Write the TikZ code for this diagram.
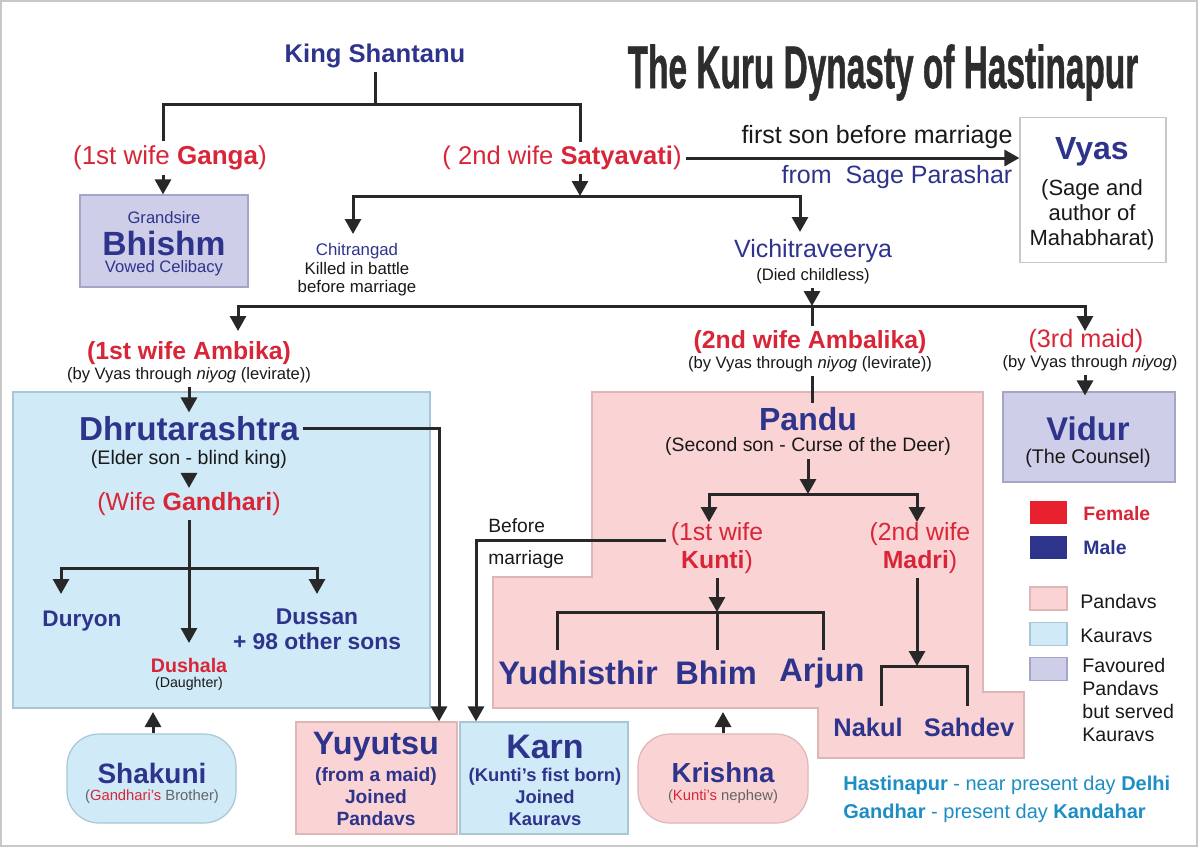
\documentclass[tikz,border=0pt]{standalone}
\usepackage{fontspec}
\setmainfont{Liberation Sans}
\newfontfamily\ktitlefont[FakeBold=1.2]{Liberation Sans}
\usepackage{graphicx}
\usetikzlibrary{arrows.meta}
\definecolor{kblue}{RGB}{46,52,140}
\definecolor{kred}{RGB}{216,38,56}
\definecolor{lred}{RGB}{232,33,46}
\definecolor{kpink}{RGB}{250,212,212}
\definecolor{kpinkb}{RGB}{222,182,182}
\definecolor{ksky}{RGB}{208,234,248}
\definecolor{kskyb}{RGB}{168,198,214}
\definecolor{klav}{RGB}{206,206,232}
\definecolor{klavb}{RGB}{165,165,200}
\definecolor{kcyan}{RGB}{28,142,196}
\definecolor{kline}{RGB}{40,40,40}
\definecolor{ktitle}{RGB}{45,45,45}
\definecolor{ktext}{RGB}{25,25,25}
\definecolor{kgray}{RGB}{100,100,100}
\definecolor{framec}{RGB}{200,200,200}
\newcommand\kfs[2]{\fontsize{#1}{#2}\selectfont}
\tikzset{
  lbl/.style={inner sep=2pt, align=center, text=ktext},
  conn/.style={draw=kline, line width=1.5pt},
  arr/.style={conn, -{Triangle[length=7.5pt,width=8pt]}},
  pinkbox/.style={draw=kpinkb, fill=kpink, line width=0.6pt, inner sep=0pt},
  skybox/.style={draw=kskyb, fill=ksky, line width=0.6pt, inner sep=0pt},
  lavbox/.style={draw=klavb, fill=klav, line width=0.6pt, inner sep=0pt},
  legsq/.style={minimum width=18.5pt, minimum height=11.5pt, inner sep=0pt},
  bigname/.style={lbl, text=kblue, font={\kfs{16.3}{18}\bfseries}},
  small/.style={lbl, font={\kfs{8.3}{10}}},
}
\begin{document}
\begin{tikzpicture}[x=0.5pt,y=-0.5pt]
\useasboundingbox (0,0) rectangle (1200,848);
\fill[white] (0,0) rectangle (1200,848);
\draw[framec, line width=1pt] (1,1) rectangle (1197,846);

% ---------- title
\node[inner sep=0pt, anchor=base, text=ktitle] (title) at (883,88)
  {\scalebox{0.557}[1]{\kfs{30}{36}\ktitlefont\bfseries The Kuru Dynasty of Hastinapur}};

% ---------- background boxes
\node[skybox, minimum width=208.5pt, minimum height=158pt] (kaurbox) at (221.5,550) {};
\draw[draw=kpinkb, fill=kpink, line width=0.6pt] (592,392) -- (983,392) -- (983,692)
  -- (1024,692) -- (1024,758) -- (818,758) -- (818,708) -- (493,708) -- (493,577)
  -- (592,577) -- cycle;
\node[lavbox, minimum width=84pt, minimum height=46pt] (bhishmbox) at (164,241) {};
\node[draw=framec, fill=white, line width=0.6pt, minimum width=73pt, minimum height=72.5pt] (vyasbox) at (1093,190) {};
\node[lavbox, minimum width=86pt, minimum height=45pt] (vidurbox) at (1089,437) {};
\node[pinkbox, minimum width=80.5pt, minimum height=56pt] (yuyubox) at (376.5,778) {};
\node[skybox, minimum width=84pt, minimum height=56pt] (karnbox) at (544,778) {};
\node[skybox, rounded corners=16pt, minimum width=84.5pt, minimum height=44.5pt] (shakbox) at (151.5,778.5) {};
\node[pinkbox, rounded corners=16pt, minimum width=85pt, minimum height=44.5pt] (krishbox) at (723,778.5) {};

% ---------- legend squares
\node[legsq, fill=lred] (legF) at (1048.5,512.5) {};
\node[legsq, fill=kblue] (legM) at (1048.5,547) {};
\node[legsq, pinkbox] (legP) at (1048.5,598.5) {};
\node[legsq, skybox] (legK) at (1048.5,634) {};
\node[legsq, lavbox] (legL) at (1048.5,669) {};

% ---------- texts
\node[lbl, text=kblue, font={\kfs{12.8}{15}\bfseries}] (shantanu) at (375,56) {King Shantanu};
\node[lbl, text=kred, font={\kfs{13}{15}}] (ganga) at (170,158) {(1st wife \textbf{Ganga})};
\node[lbl, text=kred, font={\kfs{12.8}{15}}] (satya) at (562,158) {( 2nd wife \textbf{Satyavati})};
\node[lbl, font={\kfs{12.5}{15}}] (firstson) at (877,137) {first son before marriage};
\node[lbl, text=kblue, font={\kfs{12.5}{15}}] (parashar) at (897,177) {from\ \ Sage Parashar};
\node[lbl, text=kblue, font={\kfs{16}{18}\bfseries}] (vyas) at (1092,152) {Vyas};
\node[lbl, font={\kfs{11}{12.5}}] (vyasd) at (1092,215) {(Sage and\\author of\\Mahabharat)};

\node[lbl, text=kblue, font={\kfs{8.3}{10}}] (grandsire) at (164,218) {Grandsire};
\node[lbl, text=kblue, font={\kfs{16.8}{18}\bfseries}] (bhishm) at (164,243) {Bhishm};
\node[lbl, text=kblue, font={\kfs{8.3}{10}}] (celibacy) at (164,268) {Vowed Celibacy};

\node[lbl, font={\kfs{8.4}{9.3}}] (chitra) at (357,270) {\textcolor{kblue}{Chitrangad}\\Killed in battle\\before marriage};
\node[lbl, text=kblue, font={\kfs{12.5}{15}}] (vichi) at (813,251) {Vichitraveerya};
\node[small] (died) at (813,276) {(Died childless)};

\node[lbl, text=kred, font={\kfs{12.4}{15}\bfseries}] (ambika) at (189,353) {(1st wife Ambika)};
\node[small] (niyog1) at (189,375) {(by Vyas through \textit{niyog} (levirate))};
\node[lbl, text=kred, font={\kfs{12.4}{15}\bfseries}] (ambalika) at (810,342) {(2nd wife Ambalika)};
\node[small] (niyog2) at (810,364) {(by Vyas through \textit{niyog} (levirate))};
\node[lbl, text=kred, font={\kfs{12.6}{15}}] (maid) at (1086,341) {(3rd maid)};
\node[small] (niyog3) at (1090,363) {(by Vyas through \textit{niyog})};

\node[lbl, text=kblue, font={\kfs{16.6}{18}\bfseries}] (dhru) at (189,429) {Dhrutarashtra};
\node[lbl, font={\kfs{9.8}{12}}] (elder) at (189,459) {(Elder son - blind king)};
\node[lbl, text=kred, font={\kfs{12.5}{15}}] (gandhari) at (189,504) {(Wife \textbf{Gandhari})};
\node[lbl, text=kblue, font={\kfs{11.3}{13}\bfseries}] (duryon) at (82,621) {Duryon};
\node[lbl, text=kblue, font={\kfs{11.4}{12.5}\bfseries}] (dussan) at (317,629) {Dussan\\+ 98 other sons};
\node[lbl, text=kred, font={\kfs{9.8}{12}\bfseries}] (dushala) at (189,665) {Dushala};
\node[lbl, font={\kfs{7.1}{9}}] (daughter) at (189,684) {(Daughter)};

\node[lbl, text=kblue, font={\kfs{14}{16}\bfseries}] (shakuni) at (152,773) {Shakuni};
\node[lbl, text=kgray, font={\kfs{7.4}{9}}] (shakd) at (152,797) {(\textcolor{kred}{Gandhari's} Brother)};

\node[lbl, text=kblue, font={\kfs{16.2}{18}\bfseries}] (yuyutsu) at (376,747) {Yuyutsu};
\node[lbl, text=kblue, font={\kfs{9.6}{11}\bfseries}] (yuyud) at (376,797) {(from a maid)\\Joined\\Pandavs};
\node[lbl, text=kblue, font={\kfs{17}{19}\bfseries}] (karn) at (545,747) {Karn};
\node[lbl, text=kblue, font={\kfs{9.2}{11}\bfseries}] (karnd) at (545,797) {(Kunti’s fist born)\\Joined\\Kauravs};

\node[lbl, font={\kfs{9.6}{11}}, anchor=west] (before) at (484,526) {Before};
\node[lbl, font={\kfs{9.6}{11}}, anchor=west] (marriage) at (484,560) {marriage};

\node[lbl, text=kblue, font={\kfs{16}{18}\bfseries}] (pandu) at (808,419) {Pandu};
\node[lbl, font={\kfs{9.7}{12}}] (curse) at (808,446) {(Second son - Curse of the Deer)};
\node[lbl, text=kred, font={\kfs{12.4}{15}}] (kunti1) at (717,534) {(1st wife};
\node[lbl, text=kred, font={\kfs{12.4}{15}}] (kunti2) at (717,562) {\textbf{Kunti})};
\node[lbl, text=kred, font={\kfs{12.4}{15}}] (madri1) at (920,534) {(2nd wife};
\node[lbl, text=kred, font={\kfs{12.4}{15}}] (madri2) at (920,562) {\textbf{Madri})};
\node[bigname] (yudh) at (578,673) {Yudhisthir};
\node[bigname] (bhim) at (716,673) {Bhim};
\node[bigname] (arjun) at (822,673) {Arjun};
\node[lbl, text=kblue, font={\kfs{12.7}{15}\bfseries}] (nakul) at (868,727) {Nakul};
\node[lbl, text=kblue, font={\kfs{12.7}{15}\bfseries}] (sahdev) at (969,727) {Sahdev};

\node[lbl, text=kblue, font={\kfs{13.8}{16}\bfseries}] (krishna) at (723,773) {Krishna};
\node[lbl, text=kgray, font={\kfs{7.4}{9}}] (krishd) at (723,797) {(\textcolor{kred}{Kunti's} nephew)};

\node[lbl, text=kblue, font={\kfs{16.4}{18}\bfseries}] (vidur) at (1088,429) {Vidur};
\node[lbl, font={\kfs{9.9}{12}}] (counsel) at (1088,458) {(The Counsel)};

% legend texts
\node[lbl, anchor=west, text=kred, font={\kfs{9.7}{11}\bfseries}] (legFt) at (1079,514) {Female};
\node[lbl, anchor=west, text=kblue, font={\kfs{9.7}{11}\bfseries}] (legMt) at (1079,548) {Male};
\node[lbl, anchor=west, font={\kfs{9.8}{11}}] (legPt) at (1076,601) {Pandavs};
\node[lbl, anchor=west, font={\kfs{9.8}{11}}] (legKt) at (1076,636) {Kauravs};
\node[lbl, anchor=west, align=left, font={\kfs{9.8}{11.35}}] (legLt) at (1078,700) {Favoured\\Pandavs\\but served\\Kauravs};

\node[lbl, anchor=west, text=kcyan, font={\kfs{10}{12}}] (place1) at (839,785) {\textbf{Hastinapur} - near present day \textbf{Delhi}};
\node[lbl, anchor=west, text=kcyan, font={\kfs{10}{12}}] (place2) at (839,813) {\textbf{Gandhar} - present day \textbf{Kandahar}};

% ---------- connectors
\coordinate (shj) at (375,104);
\coordinate (gx) at (163,104);
\coordinate (sx) at (580,104);
\draw[conn] (shantanu.south) -- (shj);
\draw[conn] (gx |- ganga.north) -- (gx) -- (sx) -- (sx |- satya.north);
\draw[arr] (gx |- ganga.south) -- (gx |- bhishmbox.north);

\coordinate (sj) at (580,196);
\coordinate (cT) at (353,234);
\coordinate (vT) at (800,232);
\draw[arr] (sj |- satya.south) -- (sj);
\draw[arr] (sj) -| (cT);
\draw[arr] (sj) -| (vT);
\draw[arr] (satya.east) -- (vyasbox.west |- satya.east);

\coordinate (vj) at (812,306);
\coordinate (amT) at (238,331);
\coordinate (vdT) at (1085,331);
\draw[arr] (died.south -| vj) -- (vj);
\draw[arr] (vj) -| (amT);
\draw[arr] (vj) -| (vdT);
\draw[conn] (vj) -- (vj |- ambalika.north);

\draw[arr] (niyog1.south) -- (dhru.north);
\draw[arr] (niyog3.south -| vdT) -- ([yshift=-2pt]vdT |- vidurbox.north);
\draw[conn] (niyog2.south -| vj) -- (vj |- pandu.north);

% Kauravs
\coordinate (yj) at (439,428);
\draw[arr] (dhru.east |- yj) -- (yj) -- (yj |- yuyubox.north);
\draw[arr] (elder.south) -- (gandhari.north);
\coordinate (gj) at (189,568);
\coordinate (dT) at (189,643);
\coordinate (duT) at (61,594);
\coordinate (dsT) at (317,594);
\draw[arr] (gandhari.south) -- (dT);
\draw[arr] (gj) -| (duT);
\draw[arr] (gj) -| (dsT);
\coordinate (shT) at (153,712);
\draw[arr] (shakbox.north -| shT) -- (shT);

% Pandavs
\coordinate (pj) at (808,494);
\coordinate (kT) at (709,522);
\coordinate (mT) at (917,522);
\draw[arr] (curse.south) -- (pj);
\draw[arr] (pj) -| (kT);
\draw[arr] (pj) -| (mT);
\coordinate (kj) at (717,612);
\coordinate (yT) at (557,650);
\coordinate (bT) at (717,650);
\coordinate (aT) at (823,650);
\draw[arr] (kunti2.south) -- (kj);
\draw[conn] (yT) |- (kj) -| (aT);
\draw[conn] (kj) -- (bT);
\coordinate (mj) at (917,666);
\coordinate (nT) at (881,706);
\coordinate (sdT) at (967,706);
\draw[arr] (madri2.south -| mj) -- (mj);
\draw[conn] (nT) |- (mj) -| (sdT);

% Karn before marriage
\coordinate (bm) at (476,540);
\draw[arr] (kunti1.west |- bm) -- (bm) -- (bm |- karnbox.north);

% Krishna
\coordinate (krT) at (723,712);
\draw[arr] (krishbox.north) -- (krT);
\end{tikzpicture}
\end{document}
